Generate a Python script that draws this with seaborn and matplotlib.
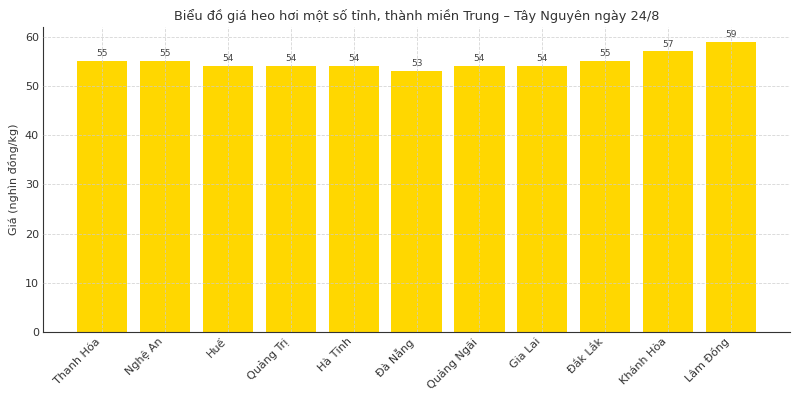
import matplotlib
matplotlib.use("Agg")
import matplotlib.pyplot as plt
import seaborn as sns
import pandas as pd

categories = ["Thanh Hóa", "Nghệ An", "Huế", "Quảng Trị", "Hà Tĩnh", "Đà Nẵng",
              "Quảng Ngãi", "Gia Lai", "Đắk Lắk", "Khánh Hòa", "Lâm Đồng"]
prices = [55, 55, 54, 54, 54, 53, 54, 54, 55, 57, 59]
title = "Biểu đồ giá heo hơi một số tỉnh, thành miền Trung – Tây Nguyên ngày 24/8"
ylabel = "Giá (nghìn đồng/kg)"

sns.set_style("white")
plt.rcParams['font.family'] = ['DejaVu Sans']

df = pd.DataFrame({"Tỉnh": categories, "Giá": prices})

fig = plt.figure(figsize=(8, 4), dpi=100)
ax = fig.add_axes([0.054, 0.17, 0.9335, 0.7625])
sns.barplot(data=df, x="Tỉnh", y="Giá", color="#FFD700", saturation=1,
            width=0.8, linewidth=0, ax=ax)
ax.set_xlim(-0.94, 10.94)
ax.set_ylim(0, 61.95)

ax.set_axisbelow(False)
ax.grid(True, linestyle="--", color="#cccccc", linewidth=0.6, alpha=0.8)

for c in ax.containers:
    ax.bar_label(c, fontsize=6.5, color="#444444", padding=2)

ax.set_title(title, fontsize=9.3, color="#333333", pad=5)
ax.set_xlabel("")
ax.set_ylabel(ylabel, fontsize=8, color="#333333", labelpad=4)
ax.tick_params(axis="both", labelsize=8, colors="#333333", length=0,
               direction="out", bottom=True, left=True, pad=3)
plt.setp(ax.get_xticklabels(), rotation=45, ha="right")

for s in ["top", "right"]:
    ax.spines[s].set_visible(False)
for s in ["left", "bottom"]:
    ax.spines[s].set_color("#333333")
    ax.spines[s].set_linewidth(0.8)

fig.savefig("out.png", dpi=100)
